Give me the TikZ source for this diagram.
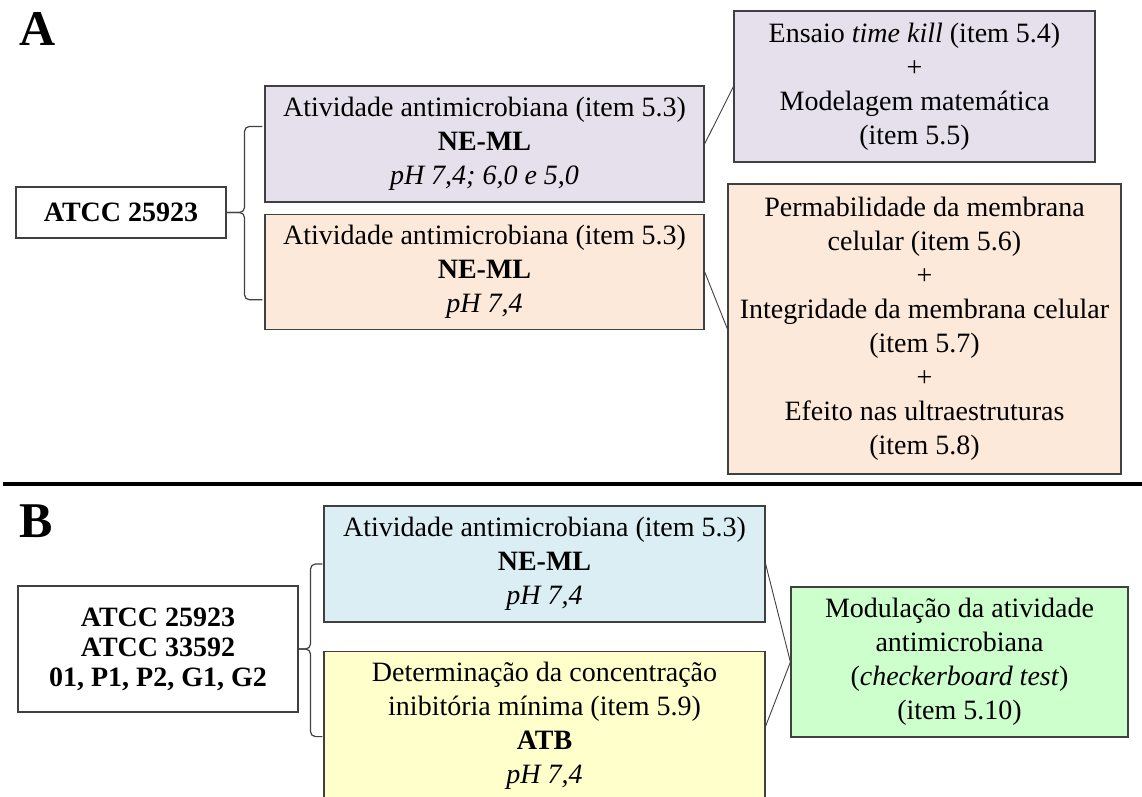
\documentclass[tikz,border=0pt]{standalone}
\usepackage{fontspec}
\setmainfont{Liberation Serif}
\usetikzlibrary{positioning,calc}
\definecolor{boxgray}{RGB}{64,64,64}
\definecolor{lilac}{RGB}{229,224,236}
\definecolor{peach}{RGB}{253,233,217}
\definecolor{skyblue}{RGB}{218,238,243}
\definecolor{paleyellow}{RGB}{255,255,204}
\definecolor{palegreen}{RGB}{204,255,204}
\tikzset{
  % Define style for boxes
  box/.style={
    rectangle,
    draw=boxgray, line width=1.2pt,
    inner sep=2pt,
    align=center,
    font=\fontsize{28}{34}\selectfont},
  % Define style for the panel letters
  panel/.style={
    inner sep=0pt,
    font=\fontsize{50}{50}\selectfont\bfseries},
  % Define link style
  link/.style={draw=boxgray, line width=0.9pt},
  % brace line
  bracket/.style={draw=boxgray, line width=1.2pt, rounded corners=5pt},
}
\def\bracket#1#2#3{ % #1 Tip, #2 Upper end, #3 Lower end
\coordinate (spine) at ($(#1)!.5!(#2)$);
\draw[bracket] (#2) -| (spine |- #1) -- (#1);
\draw[bracket] (#3) -| (spine |- #1) -- (#1);
}

\begin{document}
\begin{tikzpicture}[x=1pt, y=-1pt]
  \useasboundingbox (0,0) rectangle (1142,796);
  % part A
  \node[panel, anchor=base west] (labA) at (19,45) {A};
  \node[box, minimum width=210pt, minimum height=51pt] (strainA) at (121,212.5)
    {\textbf{ATCC 25923}};
  \node[box, fill=lilac, minimum width=439pt, minimum height=116pt] (midA1) at (484.5,144)
    {Atividade antimicrobiana (item 5.3)\\ \textbf{NE-ML}\\ \textit{pH 7,4; 6,0 e 5,0}};
  \node[box, fill=peach, minimum width=439pt, minimum height=115pt, below=11pt of midA1] (midA2)
    {Atividade antimicrobiana (item 5.3)\\ \textbf{NE-ML}\\ \textit{pH 7,4}};
  \node[box, fill=lilac, minimum width=361pt, minimum height=151pt] (rightA1) at (914.5,86.5)
    {Ensaio \textit{time kill} (item 5.4)\\ +\\ Modelagem matemática\\ (item 5.5)};
  \node[box, fill=peach, minimum width=393pt, minimum height=290pt] (rightA2) at (924.5,329)
    {Permabilidade da membrana\\ celular (item 5.6)\\ +\\ Integridade da membrana celular\\
     (item 5.7)\\ +\\ Efeito nas ultraestruturas\\ (item 5.8)};
  \coordinate (topA) at ($(midA1.north west)+(-2,41)$);
  \coordinate (botA) at ($(midA2.south west)+(-2,-30)$);
  \bracket{strainA.east}{topA}{botA};
  \draw[link] (midA1.east) -- (rightA1.west);
  \draw[link] (midA2.east) -- (rightA2.west);

  % separator
  \draw[line width=3.5pt] (3,484) -- (1142,484);

  % part B
  \node[panel, anchor=base west] (labB) at (19,537) {B};
  \node[box, font=\fontsize{28}{30}\selectfont\bfseries, minimum width=280pt, minimum height=126pt]
    (strainB) at (158,649) {ATCC 25923\\ ATCC 33592\\ 01, P1, P2, G1, G2};
  \node[box, fill=skyblue, minimum width=441pt, minimum height=116pt] (blueB) at (544.5,564)
    {Atividade antimicrobiana (item 5.3)\\ \textbf{NE-ML}\\ \textit{pH 7,4}};
  \node[box, fill=paleyellow, minimum width=441pt, minimum height=150pt, below=28pt of blueB] (yellowB)
    {Determinação da concentração\\ inibitória mínima (item 5.9)\\ \textbf{ATB}\\ \textit{pH 7,4}};
  \node[box, fill=palegreen, minimum width=337pt, minimum height=150pt] (greenB) at (959.5,662)
    {Modulação da atividade\\ antimicrobiana\\ (\textit{checkerboard test})\\ (item 5.10)};
  \coordinate (topB) at ($(blueB.west)+(-1,0)$);
  \coordinate (botB) at ($(yellowB.north west)+(-1,86)$);
  \bracket{strainB.east}{topB}{botB};
  \draw[link] (blueB.east) -- (greenB.west);
  \draw[link] (yellowB.east) -- (greenB.west);
\end{tikzpicture}
\end{document}
